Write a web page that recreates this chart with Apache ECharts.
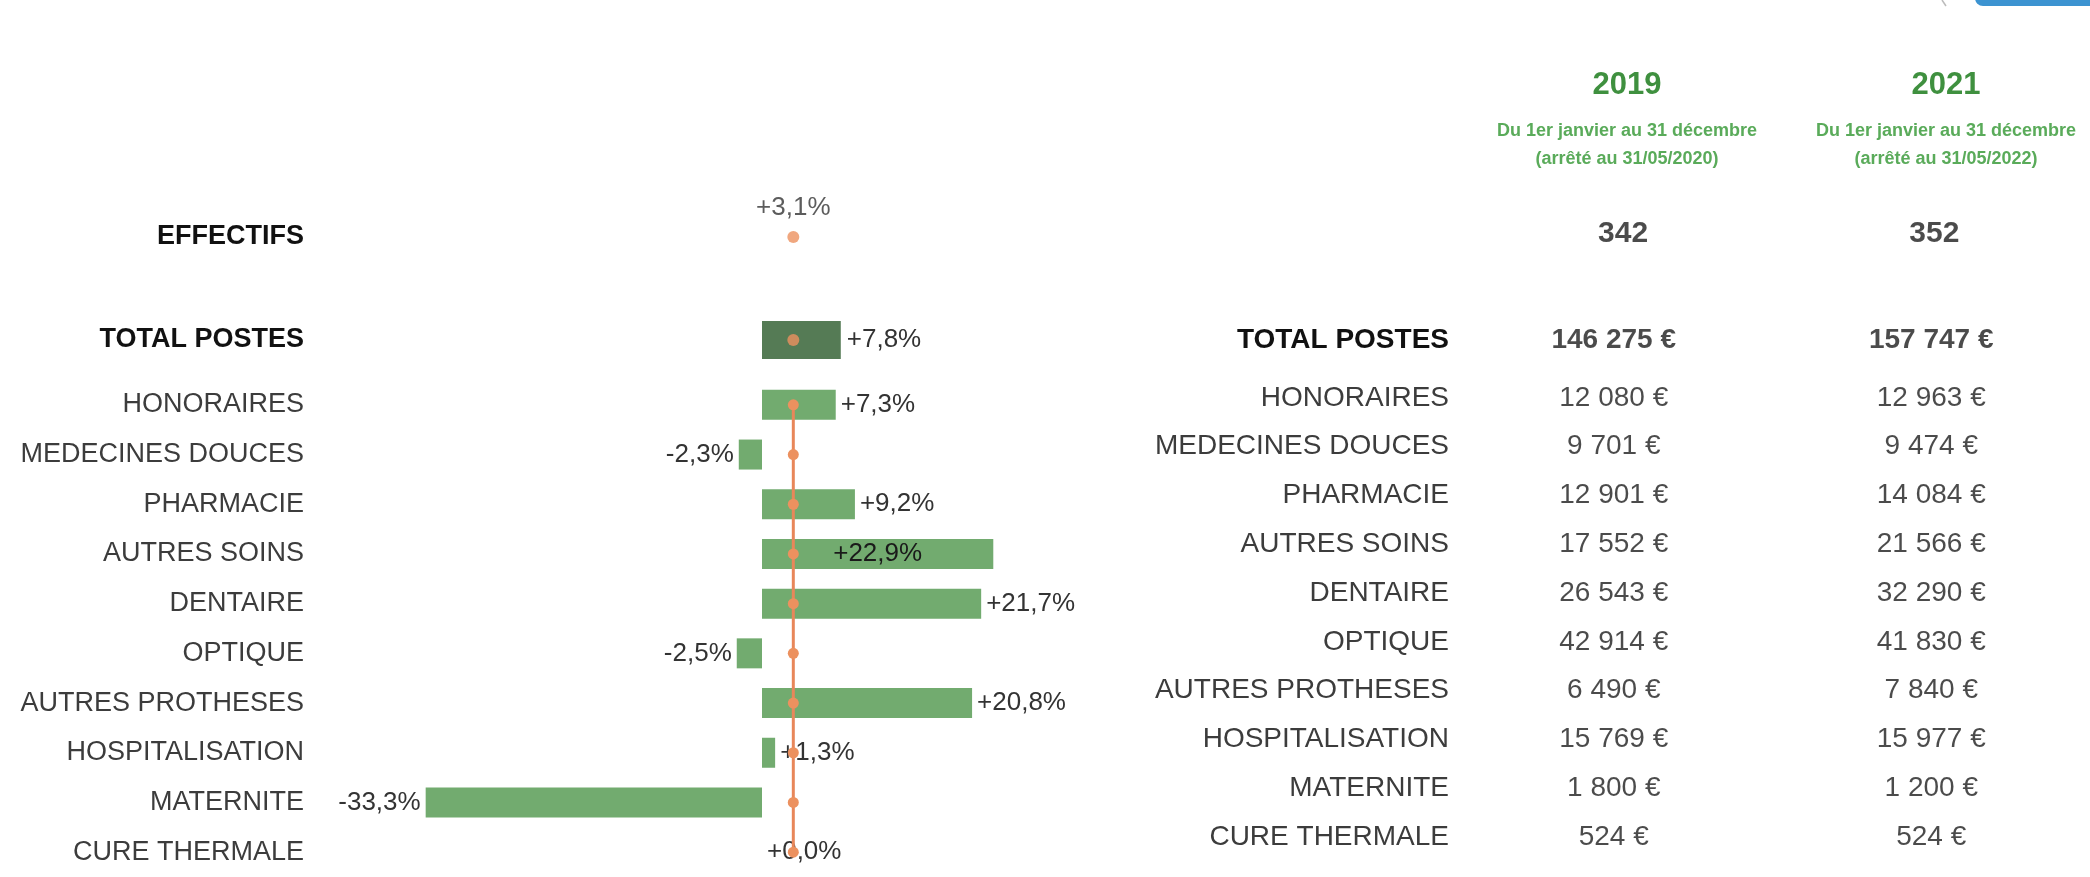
<!DOCTYPE html>
<html><head><meta charset="utf-8">
<script src="https://cdn.jsdelivr.net/npm/echarts@6/dist/echarts.min.js"></script>
<style>html,body{margin:0;padding:0;background:#fff}#c{width:2090px;height:877px}</style>
</head><body><div id="c"></div>
<script>
// ---- data ----
const categories = ['HONORAIRES','MEDECINES DOUCES','PHARMACIE','AUTRES SOINS','DENTAIRE','OPTIQUE','AUTRES PROTHESES','HOSPITALISATION','MATERNITE','CURE THERMALE'];
const pctChange = [7.3, -2.3, 9.2, 22.9, 21.7, -2.5, 20.8, 1.3, -33.3, 0.0];
const totalLabel = 'TOTAL POSTES';
const totalPct = 7.8;
const effectifsLabel = 'EFFECTIFS';
const effectifsPct = 3.1;
const years = ['2019', '2021'];
const periodLine1 = ['Du 1er janvier au 31 décembre', 'Du 1er janvier au 31 décembre'];
const periodLine2 = ['(arrêté au 31/05/2020)', '(arrêté au 31/05/2022)'];
const effectifs = [342, 352];
const totals = [146275, 157747];
const amounts2019 = [12080, 9701, 12901, 17552, 26543, 42914, 6490, 15769, 1800, 524];
const amounts2021 = [12963, 9474, 14084, 21566, 32290, 41830, 7840, 15977, 1200, 524];

// ---- helpers ----
const FONT = '"Liberation Sans", Arial, sans-serif';
const fmtPct = v => (v >= 0 ? '+' : '') + v.toFixed(1).replace('.', ',') + '%';
const fmtEur = v => String(v).replace(/\B(?=(\d{3})+(?!\d))/g, ' ') + ' €';
const LIGHT = '#72ab6f', DARK = '#557b55', ORANGE = '#ec915f', LINE = '#e8875a';
const maxPct = Math.max(...pctChange);

const hiddenX = i => ({gridIndex: i, type: 'value', min: -40, max: 40, show: false});
const catY = (i, data, bold, showLabel) => ({
  gridIndex: i, type: 'category', data: data, inverse: true,
  axisLine: {show: false}, axisTick: {show: false}, splitLine: {show: false},
  axisLabel: {show: showLabel, margin: i < 3 ? 54 : 6, fontSize: i < 3 ? 27 : 28,
    fontWeight: bold ? 'bold' : 'normal', color: bold ? '#111' : '#3c3c3c', fontFamily: FONT}
});
const tableX = i => ({gridIndex: i, type: 'category', data: years, show: false});

const cellSeries = (grid, data, bold, size, fmt) => ({
  type: 'scatter', xAxisIndex: grid, yAxisIndex: grid, symbolSize: 1,
  itemStyle: {color: 'rgba(0,0,0,0)'}, silent: true,
  label: {show: true, position: 'inside', fontSize: size, fontWeight: bold ? 'bold' : 'normal',
    color: '#1e1e1e', fontFamily: FONT, formatter: p => fmt(p.value[2])},
  data: data
});

const option = {
  animation: false,
  backgroundColor: '#fff',
  textStyle: {fontFamily: FONT},
  grid: [
    {left: 358, width: 808, top: 212, height: 50},
    {left: 358, width: 808, top: 315, height: 50},
    {left: 358, width: 808, top: 380, height: 505},
    {left: 1467.5, width: 638, top: 209, height: 50},
    {left: 1455, width: 676, top: 315, height: 50},
    {left: 1455, width: 676, top: 373.6, height: 487.8}
  ],
  xAxis: [hiddenX(0), hiddenX(1), hiddenX(2), tableX(3), tableX(4), tableX(5)],
  yAxis: [
    catY(0, [effectifsLabel], true, true),
    catY(1, [totalLabel], true, true),
    catY(2, categories, false, true),
    catY(3, [effectifsLabel], true, false),
    catY(4, [totalLabel], true, true),
    catY(5, categories, false, true)
  ],
  series: [
    {type: 'scatter', xAxisIndex: 0, yAxisIndex: 0, symbolSize: 12, itemStyle: {color: ORANGE},
     label: {show: true, position: 'top', distance: 10, fontSize: 26, color: '#333', formatter: p => fmtPct(p.value[0])},
     data: [[effectifsPct, effectifsLabel]], z: 5},
    {type: 'bar', xAxisIndex: 1, yAxisIndex: 1, barWidth: 38, itemStyle: {color: DARK},
     label: {show: true, position: 'right', distance: 6, fontSize: 26, color: '#333', formatter: p => fmtPct(p.value)},
     data: [totalPct]},
    {type: 'scatter', xAxisIndex: 1, yAxisIndex: 1, symbolSize: 12, itemStyle: {color: ORANGE},
     data: [[effectifsPct, totalLabel]], z: 5},
    {type: 'bar', xAxisIndex: 2, yAxisIndex: 2, barWidth: 30, itemStyle: {color: LIGHT},
     label: {show: true, fontSize: 26, color: '#333', distance: 5, formatter: p => fmtPct(p.value)},
     data: pctChange.map(v => ({value: v, label: {position: v === maxPct ? 'inside' : (v < 0 ? 'left' : 'right'), color: v === maxPct ? '#1a1a1a' : '#333'}}))},
    {type: 'line', xAxisIndex: 2, yAxisIndex: 2, symbol: 'circle', symbolSize: 11,
     lineStyle: {color: LINE, width: 3}, itemStyle: {color: ORANGE}, z: 5,
     data: categories.map(() => effectifsPct)},
    cellSeries(3, years.map((y, i) => [y, effectifsLabel, effectifs[i]]), true, 30, v => String(v)),
    cellSeries(4, years.map((y, i) => [y, totalLabel, totals[i]]), true, 28, fmtEur),
    cellSeries(5, categories.map((c, i) => [years[0], c, amounts2019[i]]), false, 28, fmtEur),
    cellSeries(5, categories.map((c, i) => [years[1], c, amounts2021[i]]), false, 28, fmtEur)
  ],
  graphic: [
    ...years.map((y, i) => ({type: 'text', x: [1627, 1946][i], y: 85,
      style: {text: y, align: 'center', verticalAlign: 'middle', fontSize: 31, fontWeight: 'bold', fill: '#3f903f', fontFamily: FONT}})),
    ...years.map((y, i) => ({type: 'text', x: [1627, 1946][i], y: 131,
      style: {text: periodLine1[i], align: 'center', verticalAlign: 'middle', fontSize: 18, fontWeight: 'bold', fill: '#5aab5a', fontFamily: FONT}})),
    ...years.map((y, i) => ({type: 'text', x: [1627, 1946][i], y: 159,
      style: {text: periodLine2[i], align: 'center', verticalAlign: 'middle', fontSize: 18, fontWeight: 'bold', fill: '#5aab5a', fontFamily: FONT}})),
    {type: 'rect', shape: {x: 1975, y: -10, width: 140, height: 16, r: 8}, style: {fill: '#3c93d1'}},
    {type: 'line', shape: {x1: 1942, y1: 0, x2: 1946, y2: 6}, style: {stroke: '#bbbbbb', lineWidth: 1.5}}
  ]
};
const chart = echarts.init(document.getElementById('c'));
chart.setOption(option);
</script>
</body></html>
